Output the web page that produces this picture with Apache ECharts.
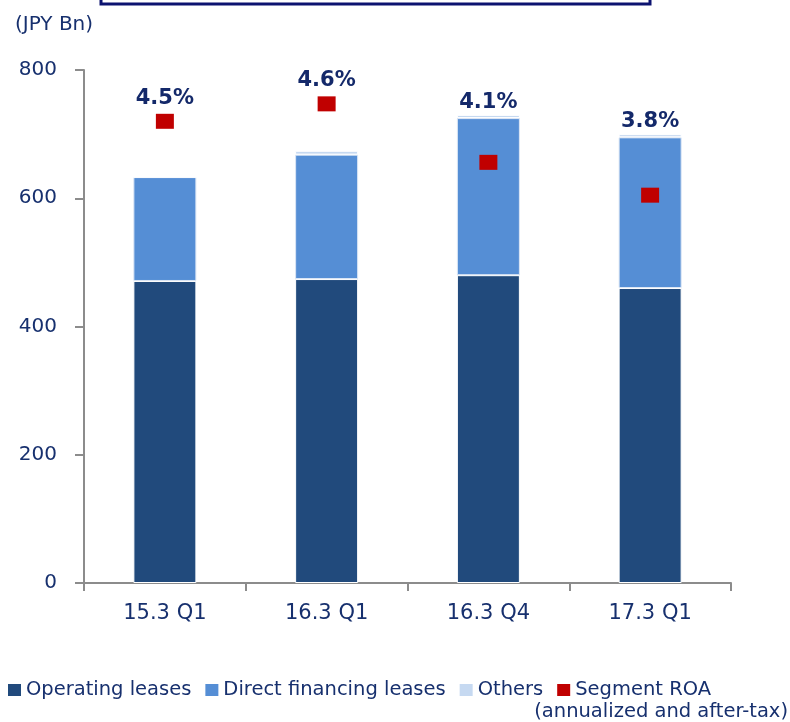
<!DOCTYPE html>
<html>
<head>
<meta charset="utf-8">
<script src="https://cdn.jsdelivr.net/npm/echarts@6/dist/echarts.min.js"></script>
<style>
  html, body { margin: 0; padding: 0; background: #fff; }
  #chart { width: 790px; height: 722px; }
</style>
</head>
<body>
<div id="chart"></div>
<script>
// categories and values (JPY Bn)
const categories = ['15.3 Q1', '16.3 Q1', '16.3 Q4', '17.3 Q1']
const operatingLeases = [471, 474, 480, 460]
const directFinancing = [162, 194, 245, 235]
const others = [0, 6, 5, 5]
// segment ROA (%), marker positions and printed labels
const segmentRoa = [4.5, 4.67, 4.1, 3.78]
const roaLabels = ['4.5%', '4.6%', '4.1%', '3.8%']
// where the printed ROA sits: above the marker or above the bar
const roaLabelOnBar = [false, false, true, true]
const yTicks = [0, 200, 400, 600, 800]

const textColor = '#17306e'
const font = 'DejaVu Sans'

const chart = echarts.init(document.getElementById('chart'))

const option = {
  animation: false,
  grid: { left: 84, right: 59, top: 70, bottom: 139, containLabel: false },
  graphic: [
    // bottom edge of the title box cut off at the top
    {
      type: 'rect',
      shape: { x: 101, y: -20, width: 549, height: 24 },
      style: { fill: 'none', stroke: '#0c1370', lineWidth: 3 }
    },
    {
      type: 'text',
      left: 15, top: 15,
      style: { text: '(JPY Bn)', font: '20px "DejaVu Sans"', fill: textColor }
    },
    {
      type: 'text',
      right: 2, top: 702,
      style: { text: '(annualized and after-tax)', font: '19.5px "DejaVu Sans"', fill: textColor }
    }
  ],
  legend: {
    left: 3,
    top: 674,
    itemWidth: 13,
    itemHeight: 12,
    itemGap: 14,
    selectedMode: false,
    itemStyle: { borderWidth: 0 },
    textStyle: { fontFamily: font, fontSize: 19.5, color: textColor, lineHeight: 22 },
    data: [
      { name: 'Operating leases', icon: 'rect' },
      { name: 'Direct financing leases', icon: 'rect' },
      { name: 'Others', icon: 'rect' },
      { name: 'Segment ROA', icon: 'rect' }
    ]
  },
  xAxis: {
    type: 'category',
    data: categories,
    boundaryGap: true,
    axisLine: { lineStyle: { color: '#8c8c8c', width: 2 } },
    axisTick: { show: true, length: 8, lineStyle: { color: '#8c8c8c', width: 2 } },
    axisLabel: { color: textColor, fontFamily: font, fontSize: 21, margin: 20 }
  },
  yAxis: [
    {
      type: 'value',
      min: yTicks[0],
      max: yTicks[yTicks.length - 1],
      interval: 200,
      axisLine: { show: true, lineStyle: { color: '#8c8c8c', width: 2 } },
      axisTick: { show: true, length: 9, lineStyle: { color: '#8c8c8c', width: 2 } },
      splitLine: { show: false },
      axisLabel: { color: textColor, fontFamily: font, fontSize: 20, margin: 27 }
    },
    {
      type: 'value',
      min: 0,
      max: 5,
      show: false,
      splitLine: { show: false }
    }
  ],
  series: [
    {
      name: 'Operating leases',
      type: 'bar',
      stack: 'total',
      barWidth: 63,
      data: operatingLeases,
      itemStyle: { color: '#214a7c', borderColor: '#ffffff', borderWidth: 1 }
    },
    {
      name: 'Direct financing leases',
      type: 'bar',
      stack: 'total',
      barWidth: 63,
      data: directFinancing,
      itemStyle: { color: '#558ed5', borderColor: '#dbe6f5', borderWidth: 1 }
    },
    {
      name: 'Others',
      type: 'bar',
      stack: 'total',
      barWidth: 63,
      data: others,
      itemStyle: { color: '#c6d9f1', borderColor: '#ffffff', borderWidth: 1 },
      label: {
        show: true,
        position: 'top',
        distance: 2,
        color: '#14296a',
        fontFamily: font,
        fontWeight: 'bold',
        fontSize: 21,
        formatter: p => roaLabelOnBar[p.dataIndex] ? roaLabels[p.dataIndex] : ''
      }
    },
    {
      name: 'Segment ROA',
      type: 'scatter',
      yAxisIndex: 1,
      symbol: 'rect',
      symbolSize: [18, 15],
      data: segmentRoa,
      itemStyle: { color: '#c00000', opacity: 1 },
      label: {
        show: true,
        position: 'top',
        distance: 5,
        color: '#14296a',
        fontFamily: font,
        fontWeight: 'bold',
        fontSize: 21,
        formatter: p => roaLabelOnBar[p.dataIndex] ? '' : roaLabels[p.dataIndex]
      }
    }
  ]
}

chart.setOption(option)
</script>
</body>
</html>
